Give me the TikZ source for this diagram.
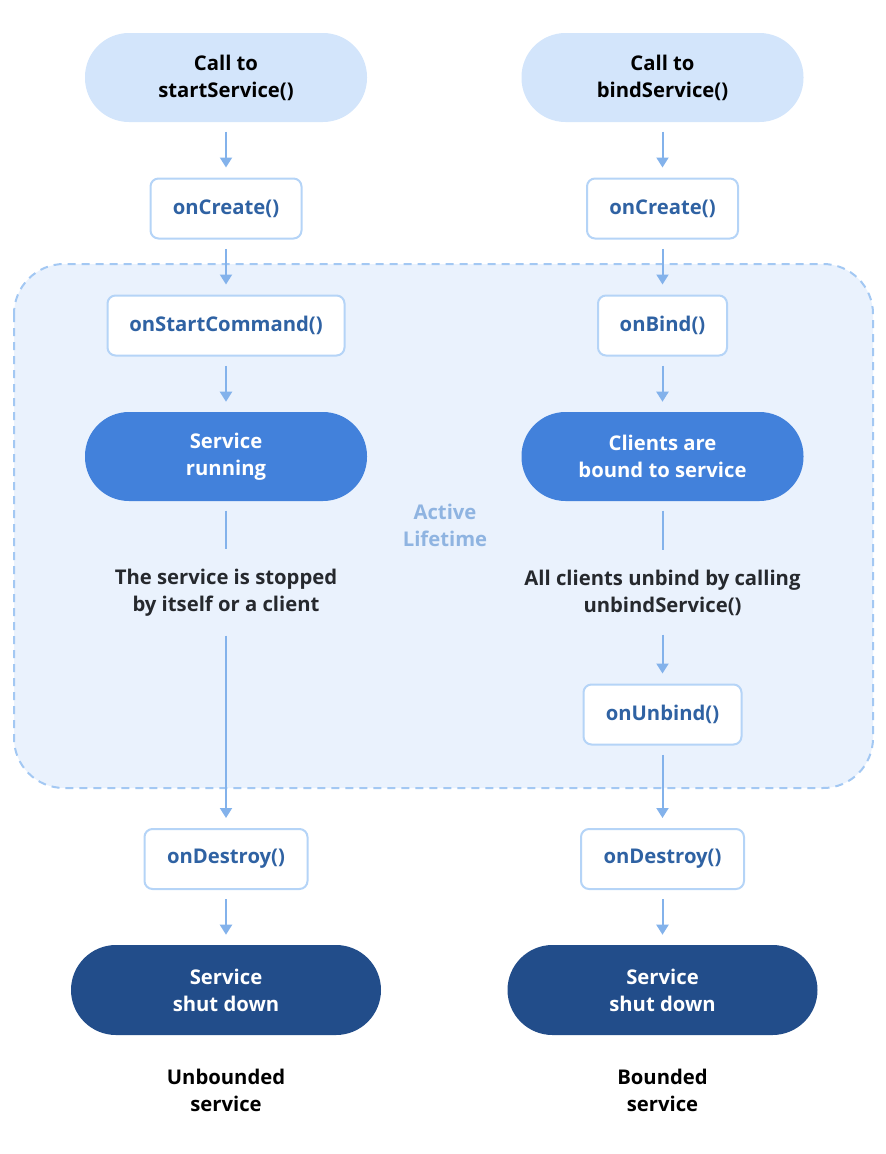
\documentclass[tikz,border=0pt]{standalone}
\usepackage{fontspec}
\setmainfont{Open Sans}
\usetikzlibrary{arrows.meta}
\definecolor{pilltop}{HTML}{D3E5FB}
\definecolor{boxline}{HTML}{B5D4F7}
\definecolor{boxtext}{HTML}{2F62A3}
\definecolor{pillmid}{HTML}{4281DB}
\definecolor{pilldark}{HTML}{224D8A}
\definecolor{regionfill}{HTML}{EAF2FD}
\definecolor{regionline}{HTML}{A3C8F3}
\definecolor{arrowcol}{HTML}{83B2EB}
\definecolor{lifetext}{HTML}{8FB4E1}
\definecolor{darktext}{HTML}{26292E}
\begin{document}
\begin{tikzpicture}[x=0.75pt,y=-0.75pt,
  every node/.style={font=\fontsize{15.2}{20.25}\selectfont\bfseries\upshape, align=center, inner sep=0pt},
  callpill/.style={fill=pilltop, text=black, minimum width=282*0.75pt, minimum height=89*0.75pt, rounded corners=44*0.75pt},
  midpill/.style={fill=pillmid, text=white, minimum width=282*0.75pt, minimum height=89*0.75pt, rounded corners=44*0.75pt},
  endpill/.style={fill=pilldark, text=white, minimum width=310*0.75pt, minimum height=90*0.75pt, rounded corners=45*0.75pt},
  methodbox/.style={draw=boxline, line width=1.5pt, fill=white, text=boxtext, minimum height=60*0.75pt, rounded corners=8*0.75pt},
  plaintext/.style={text=darktext},
  flow/.style={draw=arrowcol, line width=1.5pt, -{Triangle[length=7.5pt,width=9pt]}, shorten <=7pt, shorten >=7.5pt},
  flowline/.style={draw=arrowcol, line width=1.5pt, shorten <=7pt}
]
\useasboundingbox (0,0) rectangle (886,1154);
% active lifetime region
\fill[regionfill, rounded corners=50*0.75pt] (14,264) rectangle (873,788);
\draw[regionline, line width=1.5pt, dash pattern=on 6pt off 4.5pt, rounded corners=50*0.75pt] (14,264) rectangle (873,788);
\node[text=lifetext] (life) at (445,525) {Active\\Lifetime};

% left column
\node[callpill] (callstart) at (226,77.5) {Call to\\startService()};
\node[methodbox, minimum width=151*0.75pt] (createL) at (226,208.5) {onCreate()};
\node[methodbox, minimum width=237*0.75pt] (startcmd) at (226,325.5) {onStartCommand()};
\node[midpill] (running) at (226,456.5) {Service\\running};
\node[plaintext] (stopped) at (226,593) {The service is stopped\\by itself or a client};
\node[methodbox, minimum width=163*0.75pt] (destroyL) at (226,859) {onDestroy()};
\node[endpill] (shutL) at (226,990) {Service\\shut down};
\node[text=black] (unbounded) at (226,1090) {Unbounded\\service};

% right column
\node[callpill] (callbind) at (662.5,77.5) {Call to\\bindService()};
\node[methodbox, minimum width=151*0.75pt] (createR) at (662.5,208.5) {onCreate()};
\node[methodbox, minimum width=129*0.75pt] (bind) at (662.5,325.5) {onBind()};
\node[midpill] (bound) at (662.5,456.5) {Clients are\\bound to service};
\node[plaintext] (unbindtext) at (662.5,593) {All clients unbind by calling\\unbindService()};
\node[methodbox, minimum width=158*0.75pt] (unbind) at (662.5,714.5) {onUnbind()};
\node[methodbox, minimum width=163*0.75pt] (destroyR) at (662.5,859) {onDestroy()};
\node[endpill] (shutR) at (662.5,990) {Service\\shut down};
\node[text=black] (bounded) at (662.5,1090) {Bounded\\service};

% left connectors
\draw[flow] (callstart) -- (createL);
\draw[flow] (createL) -- (startcmd);
\draw[flow] (startcmd) -- (running);
\draw[flowline, shorten >=15pt] (running) -- (stopped);
\draw[flow, shorten <=14pt] (stopped) -- (destroyL);
\draw[flow] (destroyL) -- (shutL);

% right connectors
\draw[flow] (callbind) -- (createR);
\draw[flow] (createR) -- (bind);
\draw[flow] (bind) -- (bound);
\draw[flowline, shorten >=15pt] (bound) -- (unbindtext);
\draw[flow, shorten <=14pt] (unbindtext) -- (unbind);
\draw[flow] (unbind) -- (destroyR);
\draw[flow] (destroyR) -- (shutR);
\end{tikzpicture}
\end{document}
